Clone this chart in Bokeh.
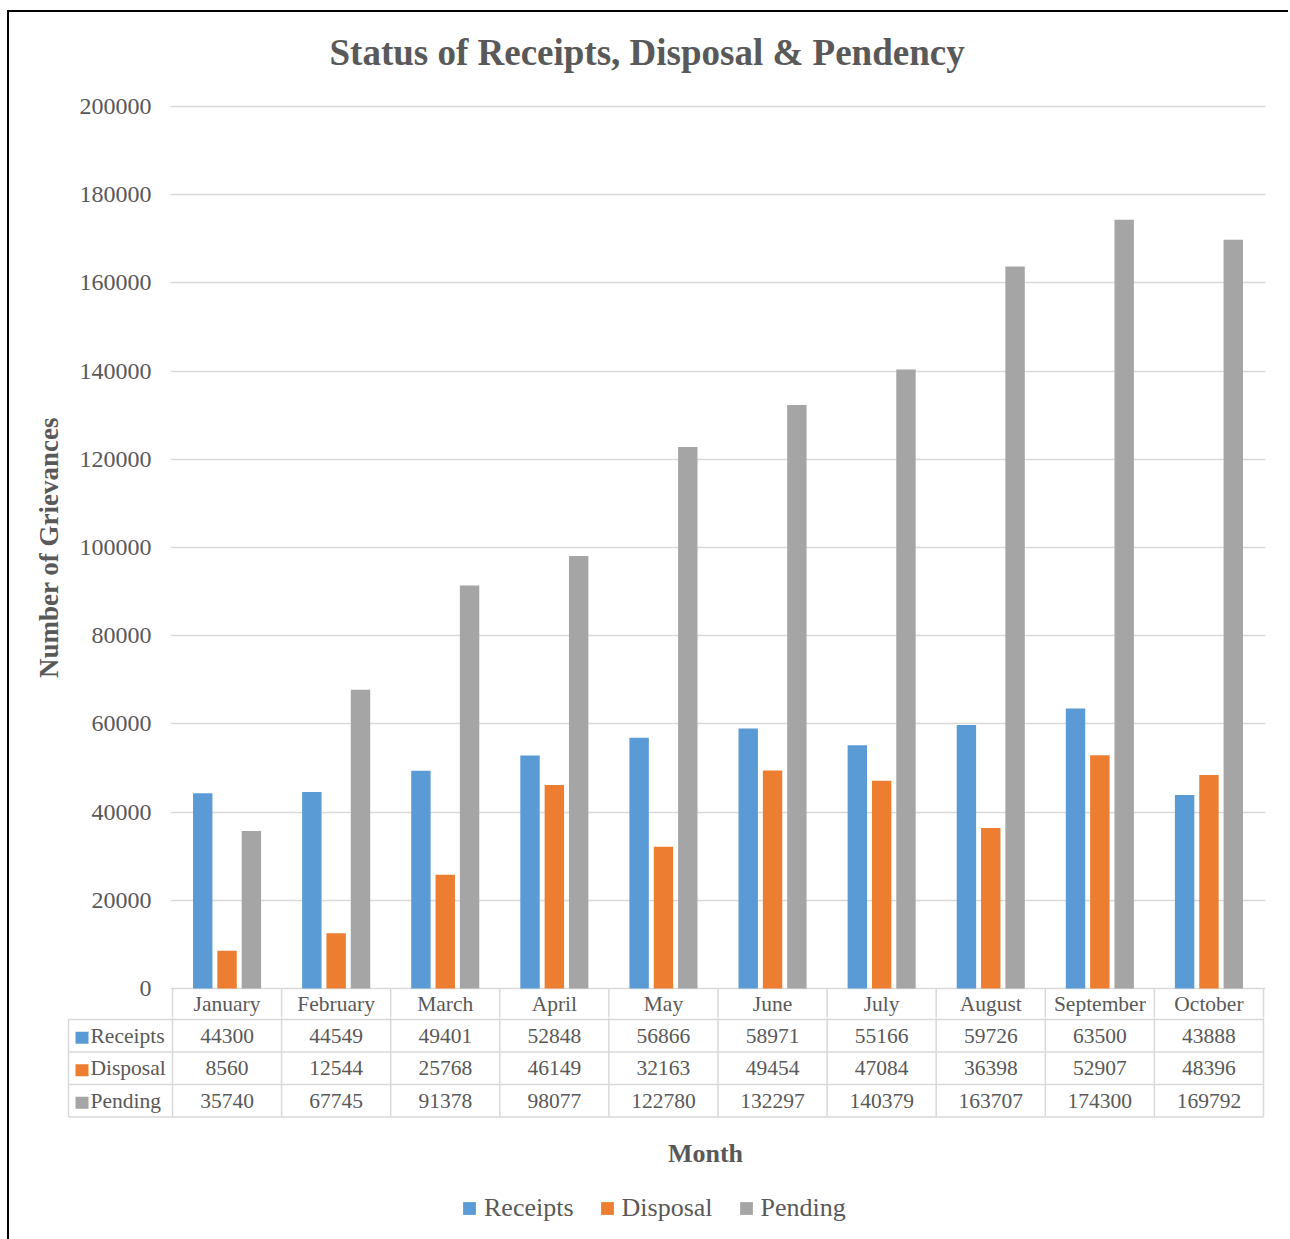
from bokeh.plotting import figure
from bokeh.models import Range1d, FixedTicker, Legend, LegendItem, BasicTickFormatter
from bokeh.layouts import column
from bokeh.embed import file_html
from bokeh.resources import INLINE
from bokeh.core.properties import value
import numpy as np

# ---------------- data ----------------
months = ["January", "February", "March", "April", "May", "June",
          "July", "August", "September", "October"]
series_names = ["Receipts", "Disposal", "Pending"]
receipts = [44300, 44549, 49401, 52848, 56866, 58971, 55166, 59726, 63500, 43888]
disposal = [8560, 12544, 25768, 46149, 32163, 49454, 47084, 36398, 52907, 48396]
pending = [35740, 67745, 91378, 98077, 122780, 132297, 140379, 163707, 174300, 169792]
y_ticks = [0, 20000, 40000, 60000, 80000, 100000, 120000, 140000, 160000, 180000, 200000]
title_text = "Status of Receipts, Disposal & Pendency"
y_label = "Number of Grievances"
x_label = "Month"

# ---------------- style ----------------
colors = ["#5B9BD5", "#ED7D31", "#A5A5A5"]
FONT = "Liberation Serif"
TXT = "#595959"
GRID = "#D9D9D9"
PPU = 109.1              # pixels per month category
VPP = 200000 / 882.0     # value per pixel on the y axis
ROW = 32.5               # table row height (px)

series = [receipts, disposal, pending]
n = len(months)
idx = np.arange(n) + 0.5
offsets = [-0.223, 0.0, 0.223]

# ---------------- main chart ----------------
p = figure(width=1279, height=1005, output_backend="svg", toolbar_location=None,
           x_range=Range1d(-2 / PPU, n + 2 / PPU),
           y_range=Range1d(-29 * VPP, 200000 + 29 * VPP),
           x_axis_location=None,
           min_border_left=161, min_border_right=23, min_border_top=65, min_border_bottom=0)
p.frame_align = False
p.outline_line_color = None
p.background_fill_color = "white"
p.border_fill_color = "white"

p.title.text = title_text
p.title.text_font = FONT
p.title.text_font_size = "37px"
p.title.text_font_style = "bold"
p.title.text_color = TXT
p.title.align = "left"
p.title.offset = 159

ticker = FixedTicker(ticks=y_ticks)
ax = p.yaxis[0]
ax.ticker = ticker
ax.formatter = BasicTickFormatter(use_scientific=False)
ax.axis_label = y_label
ax.axis_label_text_font = FONT
ax.axis_label_text_font_size = "27px"
ax.axis_label_text_font_style = "bold"
ax.axis_label_text_color = TXT
ax.axis_label_standoff = 13
ax.major_label_text_font = FONT
ax.major_label_text_font_size = "24px"
ax.major_label_text_color = TXT
ax.major_label_standoff = 13
ax.axis_line_color = None
ax.major_tick_line_color = None
ax.minor_tick_line_color = None

p.xgrid.visible = False
p.ygrid.ticker = ticker
p.ygrid.grid_line_color = GRID
p.ygrid.grid_line_width = 1.5

for k, vals in enumerate(series):
    p.vbar(x=idx + offsets[k], width=0.178, top=vals, bottom=0,
           fill_color=colors[k], line_color=None)

# month row of the data table (below the zero line)
bounds = np.arange(n + 1)
p.segment(x0=bounds, y0=0, x1=bounds, y1=-29 * VPP, line_color=GRID, line_width=1.5)
p.text(x=idx, y=-15.5 * VPP, text=months, text_font=value(FONT), text_font_size="21.5px",
       text_color=TXT, text_align="center", text_baseline="middle")

# ---------------- data table + legend ----------------
left = -104 / PPU
q = figure(width=1279, height=222, output_backend="svg", toolbar_location=None,
           x_range=Range1d(-106 / PPU, n + 2 / PPU), y_range=Range1d(-220, 2),
           x_axis_location=None, y_axis_location=None,
           min_border_left=57, min_border_right=23, min_border_top=0, min_border_bottom=0)
q.frame_align = False
q.outline_line_color = None
q.grid.visible = False
q.border_fill_color = "white"

row_lines = [0, -ROW, -2 * ROW, -3 * ROW]
q.segment(x0=left, y0=row_lines, x1=n, y1=row_lines, line_color=GRID, line_width=1.5)
q.segment(x0=bounds, y0=2, x1=bounds, y1=-3 * ROW, line_color=GRID, line_width=1.5)
q.segment(x0=[left], y0=[0], x1=[left], y1=[-3 * ROW], line_color=GRID, line_width=1.5)

items = []
for k, vals in enumerate(series):
    yc = -(k + 0.5) * ROW
    q.text(x=idx, y=yc, text=[str(v) for v in vals], text_font=value(FONT),
           text_font_size="21.5px", text_color=TXT, text_align="center", text_baseline="middle")
    r = q.rect(x=[(81.5 - 172) / PPU], y=[yc - 2], width=13, height=12,
               width_units="screen", height_units="screen",
               fill_color=colors[k], line_color=None)
    q.text(x=[(90 - 172) / PPU], y=[yc], text=[series_names[k]], text_font=value(FONT),
           text_font_size="21.5px", text_color=TXT, text_align="left", text_baseline="middle")
    items.append(LegendItem(label=series_names[k], renderers=[r]))

q.text(x=[(705 - 172) / PPU], y=[-134], text=[x_label], text_font=value(FONT),
       text_font_size="26px", text_font_style="bold", text_color=TXT,
       text_align="center", text_baseline="middle")

legend = Legend(items=items, orientation="horizontal", location=(395, 16),
                glyph_width=16, glyph_height=16, label_standoff=7, spacing=25,
                padding=0, margin=0, border_line_color=None, background_fill_alpha=0,
                label_text_font=FONT, label_text_font_size="26px", label_text_color=TXT)
q.add_layout(legend, "center")

layout = column(p, q, spacing=0,
                styles={"margin-left": "7px", "margin-top": "10px",
                        "border-left": "2px solid black", "border-top": "2px solid black"})

open("out.html", "w").write(file_html(layout, INLINE))
